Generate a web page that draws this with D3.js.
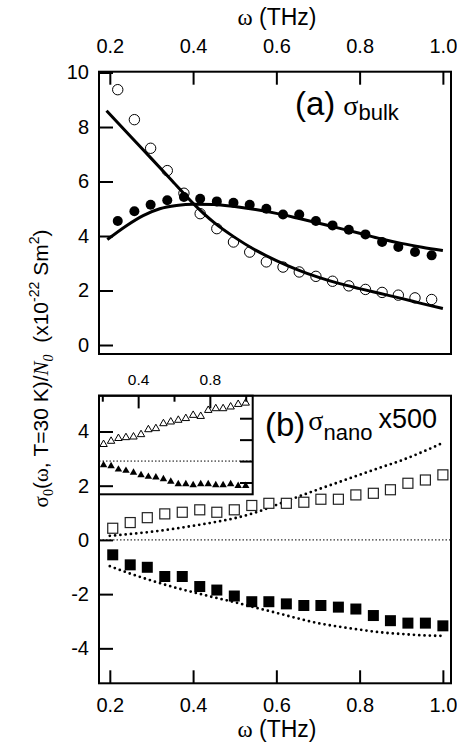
<!DOCTYPE html>
<html><head><meta charset="utf-8">
<script src="https://cdn.jsdelivr.net/npm/d3@7"></script>
<style>
html,body{margin:0;padding:0;background:#fff;}
svg{display:block;}
</style></head><body>
<svg id="chart" width="457" height="756"></svg>
<script>
// ---- panel (a): bulk conductivity ----
const omegaBulk = [0.219,0.259,0.298,0.338,0.378,0.417,0.457,0.497,0.536,0.576,0.616,0.655,0.695,0.735,0.774,0.814,0.854,0.893,0.933,0.973];
const bulkOpen = [9.37,8.27,7.22,6.40,5.57,4.82,4.27,3.78,3.41,3.05,2.86,2.68,2.52,2.34,2.17,2.04,1.93,1.83,1.73,1.67];
const bulkFilled = [4.55,4.91,5.15,5.31,5.43,5.37,5.27,5.22,5.15,5.00,4.79,4.79,4.55,4.39,4.23,4.06,3.78,3.60,3.41,3.29];
const fitDecayOmega = [0.192,0.25,0.30,0.35,0.40,0.45,0.50,0.55,0.60,0.65,0.70,0.75,0.80,0.85,0.90,0.95,1.0];
const fitDecay = [8.6,7.65,6.84,6.02,5.2,4.5,3.95,3.48,3.1,2.77,2.49,2.26,2.07,1.89,1.71,1.52,1.34];
const fitPeakOmega = [0.194,0.24,0.28,0.32,0.36,0.40,0.45,0.50,0.55,0.60,0.65,0.70,0.75,0.80,0.85,0.90,0.95,1.0];
const fitPeak = [3.87,4.38,4.75,5.0,5.12,5.17,5.16,5.08,4.97,4.83,4.66,4.48,4.29,4.1,3.9,3.73,3.59,3.47];

// ---- panel (b): nano conductivity x500 ----
const omegaNano = [0.207,0.249,0.290,0.332,0.374,0.416,0.457,0.499,0.541,0.582,0.624,0.666,0.707,0.749,0.791,0.833,0.874,0.916,0.958,1.000];
const nanoOpen = [0.43,0.64,0.82,0.96,1.02,1.11,1.02,1.11,1.27,1.35,1.35,1.39,1.50,1.50,1.66,1.72,1.85,2.09,2.21,2.40];
const nanoFilled = [-0.55,-0.92,-1.01,-1.35,-1.35,-1.72,-1.85,-2.07,-2.28,-2.28,-2.36,-2.42,-2.42,-2.48,-2.55,-2.79,-2.98,-3.07,-3.07,-3.17];
const calcOmega = [0.2,0.25,0.3,0.35,0.4,0.45,0.5,0.55,0.6,0.65,0.7,0.75,0.8,0.85,0.9,0.95,1.0];
const calcUpper = [0.15,0.22,0.30,0.40,0.52,0.65,0.80,1.01,1.29,1.58,1.86,2.13,2.40,2.67,2.93,3.24,3.58];
const calcLower = [-0.97,-1.25,-1.50,-1.73,-1.93,-2.12,-2.30,-2.50,-2.69,-2.89,-3.07,-3.20,-3.31,-3.41,-3.47,-3.52,-3.54];

// ---- inset ----
const insetOpen = [0.78,0.93,1.06,1.10,1.13,1.24,1.47,1.52,1.75,1.83,1.91,1.99,2.14,2.09,2.37,2.45,2.45,2.53,2.65,2.71];
const insetFilled = [-0.19,-0.23,-0.39,-0.45,-0.54,-0.65,-0.73,-0.76,-0.84,-0.96,-1.07,-1.07,-1.12,-1.07,-1.07,-1.12,-1.12,-1.07,-1.15,-1.15];

// ---- ticks ----
const xTicks = [0.2,0.4,0.6,0.8,1.0];
const yTicksA = [0,2,4,6,8,10];
const yTicksB = [-4,-2,0,2,4];
const insetMajor = [0.4,0.8];
const insetMinor = [0.2,0.6,1.0];
const insetYTicks = [-1,0,1,2];

const SANS = '"Liberation Sans", Arial, sans-serif';
const SERIF = '"Liberation Serif", "Times New Roman", serif';

const svg = d3.select("#chart");

const x = d3.scaleLinear().domain([0.174, 1.0195]).range([99, 451]);
const yA = d3.scaleLinear().domain([-0.33, 10.03]).range([354, 71.7]);
const yB = d3.scaleLinear().domain([-5.29, 5.32]).range([683.3, 395.7]);
const xI = d3.scaleLinear().domain([0.1816, 1.039]).range([99, 252.7]);
const yI = d3.scaleLinear().domain([-1.55, 3.05]).range([494.3, 395.7]);

function styleAxis(g, size) {
  g.attr("font-family", SANS).attr("font-size", size);
  g.selectAll(".domain").remove();
  g.selectAll(".tick line").attr("stroke", "#000").attr("stroke-width", 2);
  g.selectAll(".tick text").attr("fill", "#000");
}
const fmt1 = d3.format(".1f");
const fmtInt = d => String(d);

// ================= panel (a) =================
const gA = svg.append("g");
const lineA = (xs, ys) => d3.line().curve(d3.curveMonotoneX)
  .x((d, i) => x(xs[i])).y(d => yA(d))(ys);

gA.append("path").attr("d", lineA(fitDecayOmega, fitDecay))
  .attr("fill", "none").attr("stroke", "#000").attr("stroke-width", 3);
gA.append("path").attr("d", lineA(fitPeakOmega, fitPeak))
  .attr("fill", "none").attr("stroke", "#000").attr("stroke-width", 3);

gA.selectAll("circle.open").data(bulkOpen).join("circle")
  .attr("class", "open")
  .attr("cx", (d, i) => x(omegaBulk[i])).attr("cy", d => yA(d)).attr("r", 5.2)
  .attr("fill", "none").attr("stroke", "#000").attr("stroke-width", 1);
gA.selectAll("circle.filled").data(bulkFilled).join("circle")
  .attr("class", "filled")
  .attr("cx", (d, i) => x(omegaBulk[i])).attr("cy", d => yA(d)).attr("r", 5)
  .attr("fill", "#000");

gA.append("rect")
  .attr("x", x.range()[0]).attr("y", yA.range()[1])
  .attr("width", x.range()[1] - x.range()[0]).attr("height", yA.range()[0] - yA.range()[1])
  .attr("fill", "none").attr("stroke", "#000").attr("stroke-width", 2);

svg.append("g").attr("transform", `translate(0,${yA.range()[1]})`)
  .call(d3.axisTop(x).tickValues(xTicks).tickSize(-13).tickSizeOuter(0).tickPadding(19).tickFormat(fmt1))
  .call(g => styleAxis(g, 20));
svg.append("g").attr("transform", `translate(${x.range()[0]},0)`)
  .call(d3.axisLeft(yA).tickValues(yTicksA).tickSize(-14).tickSizeOuter(0).tickPadding(10).tickFormat(fmtInt))
  .call(g => styleAxis(g, 20));

// panel label (a) sigma_bulk
const labA = svg.append("text").attr("x", 295).attr("y", 114.5).attr("font-family", SANS);
labA.append("tspan").attr("font-size", 33).text("(a)");
labA.append("tspan").attr("font-size", 28).attr("font-family", SERIF).attr("dx", 8).text("σ");
labA.append("tspan").attr("font-size", 22).attr("dy", 5.5).text("bulk");

// ================= panel (b) =================
const gB = svg.append("g");
const lineB = (xs, ys) => d3.line().curve(d3.curveMonotoneX)
  .x((d, i) => x(xs[i])).y(d => yB(d))(ys);

gB.append("line").attr("x1", x.range()[0]).attr("x2", x.range()[1])
  .attr("y1", yB(0)).attr("y2", yB(0))
  .attr("stroke", "#000").attr("stroke-width", 1).attr("stroke-dasharray", "1.5,2");

[calcUpper, calcLower].forEach(c => {
  gB.append("path").attr("d", lineB(calcOmega, c))
    .attr("fill", "none").attr("stroke", "#000").attr("stroke-width", 2.8)
    .attr("stroke-linecap", "round").attr("stroke-dasharray", "0,5.3");
});

const sqOpen = 10, sqFilled = 11;
gB.selectAll("rect.open").data(nanoOpen).join("rect")
  .attr("class", "open")
  .attr("x", (d, i) => x(omegaNano[i]) - sqOpen / 2).attr("y", d => yB(d) - sqOpen / 2)
  .attr("width", sqOpen).attr("height", sqOpen)
  .attr("fill", "#fff").attr("stroke", "#222").attr("stroke-width", 1.2);
gB.selectAll("rect.filled").data(nanoFilled).join("rect")
  .attr("class", "filled")
  .attr("x", (d, i) => x(omegaNano[i]) - sqFilled / 2).attr("y", d => yB(d) - sqFilled / 2)
  .attr("width", sqFilled).attr("height", sqFilled)
  .attr("fill", "#000");

// ---- inset ----
const gI = svg.append("g");
gI.append("rect")
  .attr("x", xI.range()[0]).attr("y", yI.range()[1])
  .attr("width", xI.range()[1] - xI.range()[0]).attr("height", yI.range()[0] - yI.range()[1])
  .attr("fill", "#fff");
gI.append("line").attr("x1", xI.range()[0]).attr("x2", xI.range()[1])
  .attr("y1", yI(0)).attr("y2", yI(0))
  .attr("stroke", "#000").attr("stroke-width", 1).attr("stroke-dasharray", "1.5,2");
const tri = d3.symbol().type(d3.symbolTriangle).size(24);
gI.selectAll("path.open").data(insetOpen).join("path")
  .attr("class", "open").attr("d", tri)
  .attr("transform", (d, i) => `translate(${xI(omegaNano[i])},${yI(d)})`)
  .attr("fill", "#fff").attr("stroke", "#000").attr("stroke-width", 1);
gI.selectAll("path.filled").data(insetFilled).join("path")
  .attr("class", "filled").attr("d", tri)
  .attr("transform", (d, i) => `translate(${xI(omegaNano[i])},${yI(d)})`)
  .attr("fill", "#000");

svg.append("g").attr("transform", `translate(0,${yI.range()[1]})`)
  .call(d3.axisTop(xI).tickValues(insetMajor).tickSize(-12.7).tickSizeOuter(0).tickPadding(10.7).tickFormat(fmt1))
  .call(g => styleAxis(g, 15.5));
svg.append("g").attr("transform", `translate(0,${yI.range()[1]})`)
  .call(d3.axisTop(xI).tickValues(insetMinor).tickSize(-6).tickSizeOuter(0).tickFormat(""))
  .call(g => styleAxis(g, 15.5));
svg.append("g").attr("transform", `translate(${xI.range()[1]},0)`)
  .call(d3.axisRight(yI).tickValues(insetYTicks).tickSize(-12.7).tickSizeOuter(0).tickFormat(""))
  .call(g => styleAxis(g, 15.5));
gI.append("rect")
  .attr("x", xI.range()[0]).attr("y", yI.range()[1])
  .attr("width", xI.range()[1] - xI.range()[0]).attr("height", yI.range()[0] - yI.range()[1])
  .attr("fill", "none").attr("stroke", "#000").attr("stroke-width", 2);

// frame + axes of panel (b)
svg.append("rect")
  .attr("x", x.range()[0]).attr("y", yB.range()[1])
  .attr("width", x.range()[1] - x.range()[0]).attr("height", yB.range()[0] - yB.range()[1])
  .attr("fill", "none").attr("stroke", "#000").attr("stroke-width", 2);
svg.append("g").attr("transform", `translate(0,${yB.range()[0]})`)
  .call(d3.axisBottom(x).tickValues(xTicks).tickSize(-13).tickSizeOuter(0).tickPadding(15).tickFormat(fmt1))
  .call(g => styleAxis(g, 20));
svg.append("g").attr("transform", `translate(${x.range()[0]},0)`)
  .call(d3.axisLeft(yB).tickValues(yTicksB).tickSize(-14).tickSizeOuter(0).tickPadding(10).tickFormat(fmtInt))
  .call(g => styleAxis(g, 20));

// panel label (b) sigma_nano x500
const labB = svg.append("text").attr("x", 265).attr("y", 436).attr("font-family", SANS);
labB.append("tspan").attr("font-size", 33).text("(b)");
labB.append("tspan").attr("font-size", 28).attr("font-family", SERIF).attr("dx", 3).attr("dy", -6).text("σ");
labB.append("tspan").attr("font-size", 22).attr("dy", 10).text("nano");
labB.append("tspan").attr("font-size", 27).attr("dx", 6).attr("dy", -11.7).text("x500");

// ================= axis titles =================
function omegaTitle(yPos) {
  const t = svg.append("text").attr("x", 277).attr("y", yPos)
    .attr("text-anchor", "middle").attr("font-family", SANS).attr("font-size", 23);
  t.append("tspan").attr("font-family", SERIF).text("ω");
  t.append("tspan").text(" (THz)");
}
omegaTitle(25);
omegaTitle(737);

const yt = svg.append("text")
  .attr("transform", "translate(47.5,368.5) rotate(-90)")
  .attr("text-anchor", "middle").attr("font-family", SANS).attr("font-size", 21);
yt.append("tspan").attr("font-family", SERIF).text("σ");
yt.append("tspan").attr("font-family", SERIF).attr("font-size", 14).attr("dy", 5).text("0");
yt.append("tspan").attr("dy", -5).text("(");
yt.append("tspan").attr("font-family", SERIF).text("ω");
yt.append("tspan").text(", T=30 K)/");
yt.append("tspan").attr("font-family", SERIF).attr("font-style", "italic").text("N");
yt.append("tspan").attr("font-family", SERIF).attr("font-style", "italic").attr("font-size", 14).attr("dy", 5).text("0");
yt.append("tspan").attr("dy", -5).text("\u00a0\u00a0(x10");
yt.append("tspan").attr("font-size", 14).attr("dy", -9).text("-22");
yt.append("tspan").attr("dy", 9).text(" Sm");
yt.append("tspan").attr("font-size", 14).attr("dy", -9).text("2");
yt.append("tspan").attr("dy", 9).text(")");
</script>
</body></html>
